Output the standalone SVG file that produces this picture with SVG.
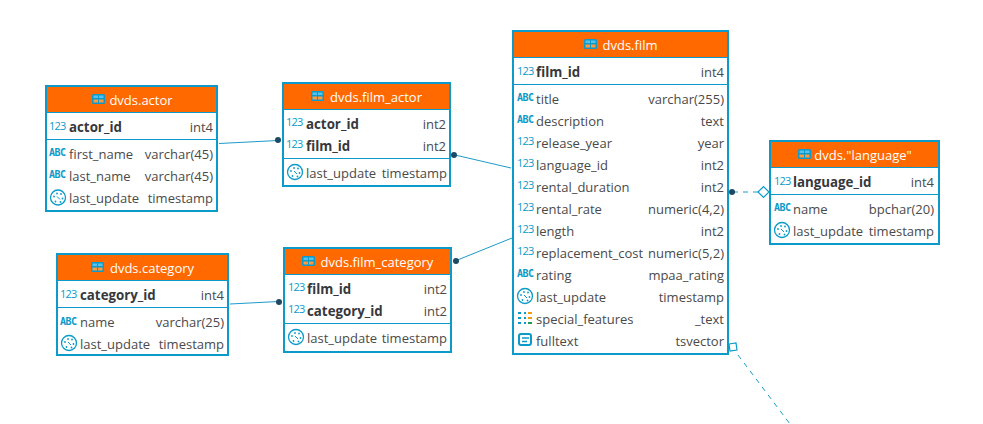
<svg xmlns="http://www.w3.org/2000/svg" width="983" height="424" viewBox="0 0 983 424">
<style>
text{font-family:"Open Sans","Noto Sans",sans-serif;font-size:13px;fill:#4a4a4a}
.box{fill:#fff;stroke:#0b9ac9;stroke-width:2}
.hd{fill:#ff6900}
.sep{stroke:#0b9ac9;stroke-width:1}
.t{fill:#fff;text-anchor:middle;font-size:13px}
.k{font-weight:700;font-size:13.300px;fill:#36383c}
.r{text-anchor:end}
.n{fill:#0b9ac9;font-size:11px;letter-spacing:-.8px}
.abc{fill:#0b9ac9;font-size:10px;font-weight:700;font-family:"DejaVu Sans Mono",monospace;letter-spacing:-.5px}
.ln{stroke:#1d9bc9;stroke-width:1;fill:none}
.dash{stroke-dasharray:5 5}
.dot{fill:#1c4a63}
</style>
<defs>
<g id="tb"><rect x="0" y="0" width="13" height="10" rx="1.500" fill="#0b9ac9"/><rect x="1.500" y="1.500" width="4.500" height="2.500" fill="#56c2f0"/><rect x="7" y="1.500" width="4.500" height="2.500" fill="#56c2f0"/><rect x="1.500" y="5.500" width="4.500" height="3" fill="#ff9a40"/><rect x="7" y="5.500" width="4.500" height="3" fill="#ff9a40"/></g>
<g id="clk"><circle cx="0" cy="0" r="7.500" fill="#fff" stroke="#0b9ac9" stroke-width="1.300"/><g fill="#0b9ac9"><circle cx="-4" cy="-1" r=".9"/><circle cx="-1" cy="-4" r=".9"/><circle cx="3" cy="-3.500" r=".9"/><circle cx="4.500" cy="1" r=".9"/><circle cx="2.500" cy="4.500" r=".9"/><circle cx="-2.500" cy="4" r=".9"/></g><path d="M-1-1 2 2" stroke="#0b9ac9" stroke-width="1"/></g>
</defs>
<g id="connectors">
<path class="ln" d="M219 143.500 278 140.500"/>
<circle class="dot" cx="278" cy="140" r="3"/>
<path class="ln" d="M455 155 511 168"/>
<circle class="dot" cx="454" cy="155" r="3"/>
<path class="ln" d="M455 261 512 238"/>
<circle class="dot" cx="456" cy="261" r="3"/>
<path class="ln" d="M230 304 279 301.500"/>
<circle class="dot" cx="279" cy="302" r="3"/>
<path class="ln dash" d="M733 192H758"/>
<circle class="dot" cx="732" cy="192" r="3"/>
<path d="M758 192l5.500-5.500 5.500 5.500-5.500 5.500z" fill="#fff" stroke="#0b9ac9" stroke-width="1.200"/>
<path class="ln dash" d="M738 355 790 424"/>
<path d="M729 344l7-1 1 7-7 1z" fill="#fff" stroke="#0b9ac9" stroke-width="1.200"/>
</g>
<g id="dvds.actor">
<rect class="box" x="46" y="86" width="171" height="125"/><rect class="hd" x="47" y="87" width="169" height="25"/>
<path class="sep" d="M47 112.500H216M47 139.500H216"/>
<use href="#tb" x="92" y="94"/><text class="t" x="141" y="105">dvds.actor</text>
<text class="n" x="49" y="130">123</text><text class="k" x="69" y="132">actor_id</text><text class="r" x="213" y="132">int4</text>
<text class="abc" x="49" y="156">ABC</text><text x="69" y="159">first_name</text><text class="r" x="213" y="159">varchar(45)</text>
<text class="abc" x="49" y="178">ABC</text><text x="69" y="181">last_name</text><text class="r" x="213" y="181">varchar(45)</text>
<use href="#clk" x="58" y="197.500"/><text x="69" y="203">last_update</text><text class="r" x="213" y="203">timestamp</text>
</g>
<g id="dvds.film_actor">
<rect class="box" x="283" y="83" width="167" height="103"/><rect class="hd" x="284" y="84" width="165" height="25"/>
<path class="sep" d="M284 109.500H449M284 158.500H449"/>
<use href="#tb" x="311" y="91"/><text class="t" x="376" y="102">dvds.film_actor</text>
<text class="n" x="286" y="126">123</text><text class="k" x="306" y="129">actor_id</text><text class="r" x="446" y="129">int2</text>
<text class="n" x="286" y="148">123</text><text class="k" x="306" y="151">film_id</text><text class="r" x="446" y="151">int2</text>
<use href="#clk" x="295" y="172"/><text x="306" y="178">last_update</text><text class="r" x="447" y="178">timestamp</text>
</g>
<g id="dvds.category">
<rect class="box" x="57" y="254" width="171" height="101"/><rect class="hd" x="58" y="255" width="169" height="25"/>
<path class="sep" d="M58 280.500H227M58 307.500H227"/>
<use href="#tb" x="91" y="262"/><text class="t" x="152" y="273">dvds.category</text>
<text class="n" x="60" y="298">123</text><text class="k" x="80" y="300">category_id</text><text class="r" x="224" y="300">int4</text>
<text class="abc" x="60" y="325">ABC</text><text x="80" y="327">name</text><text class="r" x="224" y="327">varchar(25)</text>
<use href="#clk" x="69" y="343"/><text x="80" y="349">last_update</text><text class="r" x="224" y="349">timestamp</text>
</g>
<g id="dvds.film_category">
<rect class="box" x="284" y="248" width="167" height="104"/><rect class="hd" x="285" y="249" width="165" height="25"/>
<path class="sep" d="M285 274.500H450M285 323.500H450"/>
<use href="#tb" x="302" y="256"/><text class="t" x="377" y="267">dvds.film_category</text>
<text class="n" x="288" y="291">123</text><text class="k" x="307" y="294">film_id</text><text class="r" x="447" y="294">int2</text>
<text class="n" x="288" y="313">123</text><text class="k" x="307" y="316">category_id</text><text class="r" x="447" y="316">int2</text>
<use href="#clk" x="296" y="337"/><text x="307" y="343">last_update</text><text class="r" x="447" y="343">timestamp</text>
</g>
<g id="dvds.film">
<rect class="box" x="513" y="31" width="215" height="323"/><rect class="hd" x="514" y="32" width="213" height="25"/>
<path class="sep" d="M514 57.500H727M514 84.500H727"/>
<use href="#tb" x="584" y="39"/><text class="t" x="630" y="50">dvds.film</text>
<text class="n" x="517" y="75">123</text><text class="k" x="536" y="77">film_id</text><text class="r" x="724" y="77">int4</text>
<text class="abc" x="517" y="101">ABC</text><text x="536" y="104">title</text><text class="r" x="724" y="104">varchar(255)</text>
<text class="abc" x="517" y="123">ABC</text><text x="536" y="126">description</text><text class="r" x="724" y="126">text</text>
<text class="n" x="517" y="145">123</text><text x="536" y="148">release_year</text><text class="r" x="724" y="148">year</text>
<text class="n" x="517" y="167">123</text><text x="536" y="170">language_id</text><text class="r" x="724" y="170">int2</text>
<text class="n" x="517" y="189">123</text><text x="536" y="192">rental_duration</text><text class="r" x="724" y="192">int2</text>
<text class="n" x="517" y="211">123</text><text x="536" y="214">rental_rate</text><text class="r" x="724" y="214">numeric(4,2)</text>
<text class="n" x="517" y="233">123</text><text x="536" y="236">length</text><text class="r" x="724" y="236">int2</text>
<text class="n" x="517" y="255">123</text><text x="536" y="258">replacement_cost</text><text class="r" x="724" y="258">numeric(5,2)</text>
<text class="abc" x="517" y="277">ABC</text><text x="536" y="280">rating</text><text class="r" x="724" y="280">mpaa_rating</text>
<use href="#clk" x="525" y="296"/><text x="536" y="302">last_update</text><text class="r" x="724" y="302">timestamp</text>
<path d="M518 312h3v2h-3zM524 312h2v2h-2zM518 317h3v2h-3zM524 317h2v2h-2zM518 322h3v2h-3zM524 322h2v2h-2z" fill="#0b9ac9"/><path d="M528 312h4v2h-4zM528 317h4v2h-4z" fill="#f39c12"/><path d="M528 322h4v2h-4z" fill="#1e9e50"/>
<text x="536" y="324">special_features</text><text class="r" x="724" y="324">_text</text>
<rect x="519" y="334" width="12" height="11" rx="2" fill="#fff" stroke="#0b9ac9" stroke-width="2"/><path d="M522 338h7M522 341.500h5" stroke="#0b9ac9" stroke-width="1.500"/>
<text x="536" y="346">fulltext</text><text class="r" x="724" y="346">tsvector</text>
</g>
<g id="dvds.language">
<rect class="box" x="770" y="141" width="169" height="103"/><rect class="hd" x="771" y="142" width="167" height="25"/>
<path class="sep" d="M771 167.500H938M771 194.500H938"/>
<use href="#tb" x="798" y="149"/><text class="t" x="863" y="160">dvds."language"</text>
<text class="n" x="774" y="185">123</text><text class="k" x="793" y="187">language_id</text><text class="r" x="934" y="187">int4</text>
<text class="abc" x="774" y="211">ABC</text><text x="793" y="214">name</text><text class="r" x="934" y="214">bpchar(20)</text>
<use href="#clk" x="782" y="230"/><text x="793" y="236">last_update</text><text class="r" x="934" y="236">timestamp</text>
</g>
</svg>
